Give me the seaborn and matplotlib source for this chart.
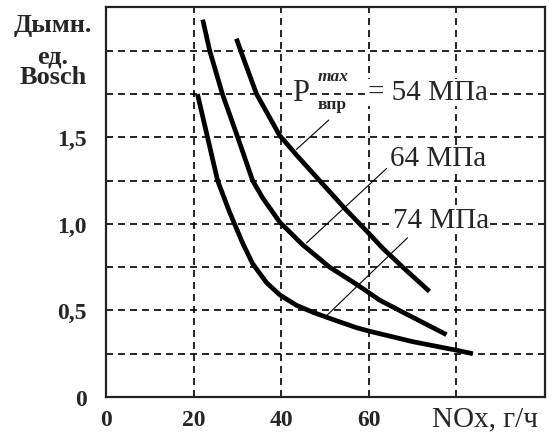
import matplotlib
matplotlib.use("Agg")
import matplotlib.pyplot as plt
import seaborn as sns
import pandas as pd

# --- data ---
nox_54 = [29.8, 31.2, 34.4, 39.7, 43.8, 48.8, 54.9, 59.5, 63.2, 67.8, 73.9]
smoke_54 = [2.07, 1.97, 1.75, 1.51, 1.39, 1.25, 1.08, 0.96, 0.86, 0.75, 0.61]

nox_64 = [22.1, 23.7, 26.6, 30.1, 33.5, 35.8, 39.7, 44.9, 51.1, 57.3, 62.5, 67.8, 77.8]
smoke_64 = [2.18, 2.00, 1.75, 1.50, 1.25, 1.15, 1.01, 0.88, 0.75, 0.65, 0.56, 0.49, 0.36]

nox_74 = [20.9, 23.2, 25.5, 28.2, 31.2, 33.5, 36.7, 39.7, 43.5, 47.2, 52.7, 57.3, 60.2, 70.0, 80.1, 83.8]
smoke_74 = [1.75, 1.50, 1.25, 1.07, 0.89, 0.77, 0.66, 0.59, 0.53, 0.49, 0.44, 0.40, 0.38, 0.32, 0.27, 0.25]

series_names = ["54 МПа", "64 МПа", "74 МПа"]

x_ticks = [0, 20, 40, 60, 80]
x_tick_labels = ["0", "20", "40", "60", ""]
y_ticks = [0, 0.25, 0.5, 0.75, 1.0, 1.25, 1.5, 1.75, 2.0]
y_tick_labels = ["0", "", "0,5", "", "1,0", "", "1,5", "", ""]

# leader lines (label end -> curve end)
leader_x = [[50.9, 43.5], [64.1, 45.8], [68.9, 50.4]]
leader_y = [[1.60, 1.43], [1.32, 0.89], [0.92, 0.47]]

df = pd.concat([
    pd.DataFrame({"NOx": nox_54, "smoke": smoke_54, "P": series_names[0]}),
    pd.DataFrame({"NOx": nox_64, "smoke": smoke_64, "P": series_names[1]}),
    pd.DataFrame({"NOx": nox_74, "smoke": smoke_74, "P": series_names[2]}),
], ignore_index=True)

sns.set_theme(style="white")
plt.rcParams["font.family"] = ["Liberation Serif", "DejaVu Serif"]

W, H = 549, 435
fig = plt.figure(figsize=(W / 100, H / 100), dpi=100)
ax = fig.add_axes([106 / W, 1 - 398 / H, (545 - 106) / W, (398 - 8) / H])

ax.set_xlim(0, 100.3)
ax.set_ylim(0.012, 2.253)

ax.grid(True, color="black", linestyle=(0, (4.2, 3.0)), linewidth=1.2, zorder=0)
ax.set_axisbelow(True)

sns.lineplot(data=df, x="NOx", y="smoke", hue="P", units="P", estimator=None,
             sort=False, palette=["black"] * 3, linewidth=3.4, legend=False, ax=ax,
             zorder=3)
for ln in ax.lines:
    ln.set_solid_capstyle("butt")
    ln.set_solid_joinstyle("round")

for lx, ly in zip(leader_x, leader_y):
    ax.plot(lx, ly, color="black", linewidth=0.8, zorder=2)

ax.set_xticks(x_ticks)
ax.set_xticklabels(x_tick_labels, fontsize=17, fontweight="bold")
ax.set_yticks(y_ticks)
ax.set_yticklabels(y_tick_labels, fontsize=17, fontweight="bold")
ax.tick_params(axis="both", length=0)
ax.tick_params(axis="x", pad=9)
ax.tick_params(axis="y", pad=14)

for s in ax.spines.values():
    s.set_visible(True)
    s.set_color("#222222")
    s.set_linewidth(1.6)

ax.set_xlabel("")
ax.set_ylabel("")

box = dict(facecolor="white", edgecolor="none", pad=0.5)
ax.text(42.6, 1.76, "P", fontsize=22, ha="left", va="center", bbox=box, zorder=4)
ax.text(48.3, 1.855, "max", fontsize=12.5, fontweight="bold", style="italic",
        ha="left", va="center", bbox=box, zorder=4)
ax.text(48.3, 1.695, "впр", fontsize=12.5, fontweight="bold", ha="left", va="center",
        bbox=box, zorder=4)
ax.text(59.8, 1.76, "= " + series_names[0], fontsize=21, ha="left", va="center",
        bbox=box, zorder=4)
ax.text(64.8, 1.38, series_names[1], fontsize=21, ha="left", va="center", bbox=box, zorder=4)
ax.text(65.5, 1.02, series_names[2], fontsize=21, ha="left", va="center", bbox=box, zorder=4)

fig.text(432 / W, 1 - 426 / H, "NOx, г/ч", fontsize=21, ha="left", va="baseline")
fig.text(53 / W, 1 - 32 / H, "Дымн.", fontsize=19, fontweight="bold", ha="center", va="baseline")
fig.text(53 / W, 1 - 63 / H, "ед.", fontsize=19, fontweight="bold", ha="center", va="baseline")
fig.text(53 / W, 1 - 84 / H, "Bosch", fontsize=19, fontweight="bold", ha="center", va="baseline")

fig.savefig("out.png", dpi=100, facecolor="white")
